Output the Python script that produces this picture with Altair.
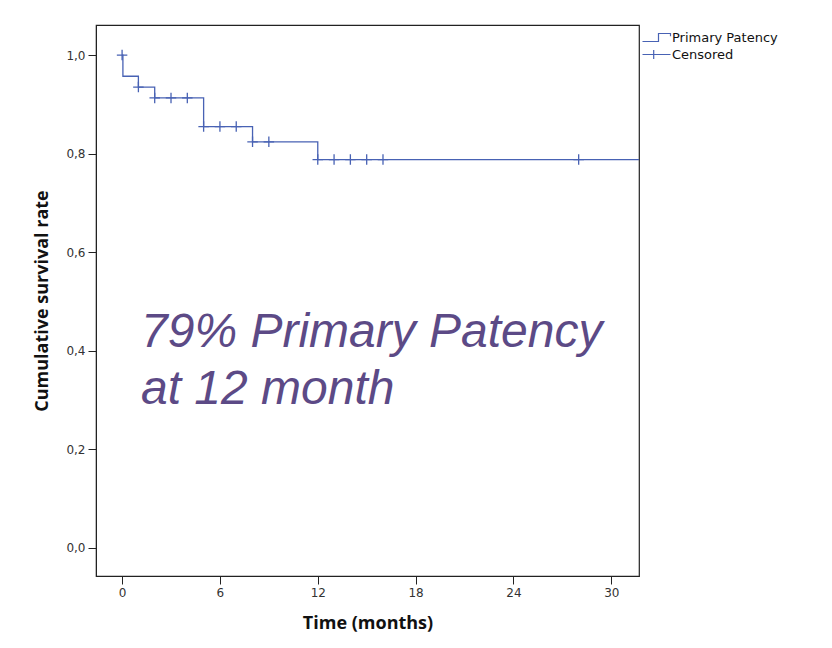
import altair as alt
import pandas as pd

# Kaplan-Meier step curve (time in months, cumulative survival)
step_time = [0, 0.05, 1, 2, 5, 8, 12, 31.7]
step_surv = [1.0, 0.957, 0.935, 0.913, 0.855, 0.824, 0.788, 0.788]

# Censored observations
cens_time = [0, 1, 2, 3, 4, 5, 6, 7, 8, 9, 12, 13, 14, 15, 16, 28]
cens_surv = [1.0, 0.935, 0.913, 0.913, 0.913, 0.855, 0.855, 0.855, 0.824, 0.824,
             0.788, 0.788, 0.788, 0.788, 0.788, 0.788]

legend_labels = ["Primary Patency", "Censored"]
x_ticks = [0, 6, 12, 18, 24, 30]
y_ticks = [0.0, 0.2, 0.4, 0.6, 0.8, 1.0]
annotation = ["79% Primary Patency", "at 12 month"]

BLUE = "#4862b4"
PURPLE = "#5c4a86"

step_df = pd.DataFrame({"t": step_time, "s": step_surv})
cens_df = pd.DataFrame({"t": cens_time, "s": cens_surv, "kind": "Censored"})
leg_df = pd.DataFrame({"t": [0, 0], "s": [1.0, 1.0], "kind": legend_labels})
ann_df = pd.DataFrame({"label": [annotation]})

xs = alt.Scale(domain=[-1.6, 31.7], nice=False, zero=False)
ys = alt.Scale(domain=[-0.057, 1.061], nice=False, zero=False)

x_enc = alt.X("t:Q", scale=xs, axis=alt.Axis(values=x_ticks, title="Time (months)",
                                             format="d"))
y_enc = alt.Y("s:Q", scale=ys, axis=alt.Axis(
    values=y_ticks, title="Cumulative survival rate",
    labelExpr="replace(format(datum.value, '.1f'), '.', ',')"))

line = alt.Chart(step_df).mark_line(
    interpolate="step-after", color=BLUE, strokeWidth=1.3, clip=True
).encode(x=x_enc, y=y_enc)

plus_path = "M-1,0L1,0M0,-1L0,1"
cens = alt.Chart(cens_df).mark_point(
    shape=plus_path, size=110, filled=False, color=BLUE, strokeWidth=1.3,
    opacity=1
).encode(x="t:Q", y="s:Q")

step_sym = "M-3.5,1L0.5,1L0.5,-1L3.5,-1L3.5,-0.3"
plus_sym = "M-3.5,0L3.5,0M-0.7,-1.1L-0.7,1.1"
legend_layer = alt.Chart(leg_df).mark_point(
    filled=False, strokeWidth=1.2, opacity=0
).encode(
    x="t:Q", y="s:Q",
    shape=alt.Shape("kind:N", scale=alt.Scale(domain=legend_labels,
                                              range=[step_sym, plus_sym]),
                    legend=alt.Legend(title=None, orient="none", legendX=554,
                                      legendY=6, symbolOpacity=1,
                                      symbolStrokeColor=BLUE,
                                      symbolFillColor="transparent",
                                      symbolSize=64, symbolStrokeWidth=1.2,
                                      labelFont="DejaVu Sans", labelFontSize=13,
                                      labelColor="#111", labelOffset=9,
                                      rowPadding=2, padding=0)),
)

ann = alt.Chart(ann_df).mark_text(
    align="left", baseline="alphabetic", font="Liberation Sans",
    fontStyle="italic", fontSize=48, color=PURPLE, lineHeight=57
).encode(x=alt.value(45), y=alt.value(322), text="label")

chart = alt.layer(line, cens, legend_layer, ann).properties(
    width=543, height=551,
    padding={"left": 25, "top": 17, "right": 5, "bottom": 5},
    background="white",
).configure_view(
    stroke="#222", strokeWidth=1.2
).configure_axis(
    grid=False, domainColor="#222", tickColor="#222", tickSize=8,
    labelFont="DejaVu Sans", labelFontSize=12, labelColor="#333",
    titleFont="Open Sans", titleFontSize=18, titleFontWeight="bold",
    titleColor="#111", labelPadding=3
).configure_axisY(titlePadding=14).configure_axisX(titlePadding=16)

chart.save("out.html", embed_options={"renderer": "svg", "actions": False})
